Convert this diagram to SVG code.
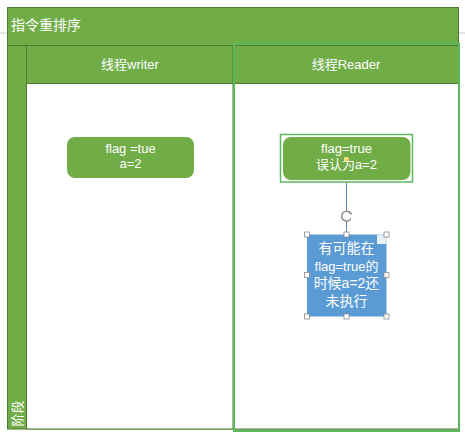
<svg xmlns="http://www.w3.org/2000/svg" width="465" height="441" viewBox="0 0 465 441">
<style>
.g{fill:#70AD47;stroke:#4E7A31;stroke-width:1}
.w{fill:#FFFFFF;stroke:#4E7A31;stroke-width:1}
.t{font-family:"Liberation Sans","Noto Sans CJK SC",sans-serif;fill:#FFFFFF}
.h{fill:#FFFFFF;stroke:#8C8C8C;stroke-width:0.8}
</style>
<rect width="465" height="441" fill="#FFFFFF"/>
<g id="guides">
<line x1="0" y1="33" x2="7" y2="33" stroke="#C8C8C8" stroke-width="1"/>
<line x1="459" y1="33" x2="465" y2="33" stroke="#C8C8C8" stroke-width="1"/>
</g>
<g id="pool">
<rect class="g" x="7.5" y="7.5" width="451" height="421.5"/>
<rect class="w" x="26.5" y="83.5" width="432" height="345.5"/>
<rect class="g" x="26.5" y="45.5" width="432" height="38"/>
<line x1="7.5" y1="45.5" x2="458.5" y2="45.5" stroke="#4E7A31"/>
<line x1="26.5" y1="45.5" x2="26.5" y2="429" stroke="#4E7A31"/>
<line x1="233" y1="45.5" x2="233" y2="429" stroke="#4E7A31"/>
<text class="t" x="11" y="30" font-size="14">指令重排序</text>
<text class="t" x="17.5" y="413.5" font-size="13" text-anchor="middle" dominant-baseline="central" transform="rotate(-90 17.5 413.5)">阶段</text>
</g>
<g id="lane-writer">
<text class="t" x="130" y="69" font-size="13" text-anchor="middle">线程writer</text>
</g>
<g id="lane-reader">
<text class="t" x="346" y="69" font-size="13" text-anchor="middle">线程Reader</text>
<rect x="234" y="43.5" width="225" height="387.5" fill="none" stroke="#5CB85C" stroke-width="2"/>
</g>
<g id="connectors">
<line x1="346.5" y1="182" x2="346.5" y2="211" stroke="#5F87B5" stroke-width="1"/>
<line x1="346.5" y1="221" x2="346.5" y2="234" stroke="#5F87B5" stroke-width="1"/>
</g>
<g id="node-writer">
<rect x="67" y="137" width="127" height="41" rx="8" fill="#70AD47"/>
<text class="t" x="130.5" y="153" font-size="13" text-anchor="middle">flag =tue</text>
<text class="t" x="130.5" y="168" font-size="13" text-anchor="middle">a=2</text>
</g>
<g id="node-reader">
<rect x="280.5" y="134.5" width="132" height="47.5" fill="none" stroke="#5CB85C" stroke-width="1.5"/>
<rect x="283" y="137" width="127.5" height="43" rx="8" fill="#70AD47"/>
<text class="t" x="346.5" y="153" font-size="13" text-anchor="middle">flag=true</text>
<text class="t" x="346.5" y="169" font-size="13" text-anchor="middle">误认为a=2</text>
<rect x="344" y="157" width="4.5" height="4.5" fill="#F5D57A"/>
</g>
<g id="rotate-handle">
<path d="M350.5 213 A5 5 0 1 0 351 218.5" fill="none" stroke="#8C8C8C" stroke-width="1.5"/>
<path d="M349 213.5 L351.5 211.5 L351.5 215 Z" fill="#8C8C8C"/>
</g>
<g id="node-note">
<rect x="307" y="234.5" width="79.5" height="82" fill="#5B9BD5"/>
<rect x="377" y="234.5" width="9.5" height="9.5" fill="#E8F0F8"/>
<text class="t" x="346.5" y="253" font-size="14" text-anchor="middle">有可能在</text>
<text class="t" x="346.5" y="271" font-size="13" text-anchor="middle">flag=true的</text>
<text class="t" x="346.5" y="288" font-size="14" text-anchor="middle">时候a=2还</text>
<text class="t" x="346.5" y="306" font-size="14" text-anchor="middle">未执行</text>
<rect class="h" x="304.5" y="232" width="5" height="5"/>
<rect class="h" x="344" y="232" width="5" height="5"/>
<rect class="h" x="384" y="232" width="5" height="5"/>
<rect class="h" x="304.5" y="272.5" width="5" height="5"/>
<rect class="h" x="384" y="272.5" width="5" height="5"/>
<rect class="h" x="304.5" y="314" width="5" height="5"/>
<rect class="h" x="344" y="314" width="5" height="5"/>
<rect class="h" x="384" y="314" width="5" height="5"/>
</g>
</svg>
